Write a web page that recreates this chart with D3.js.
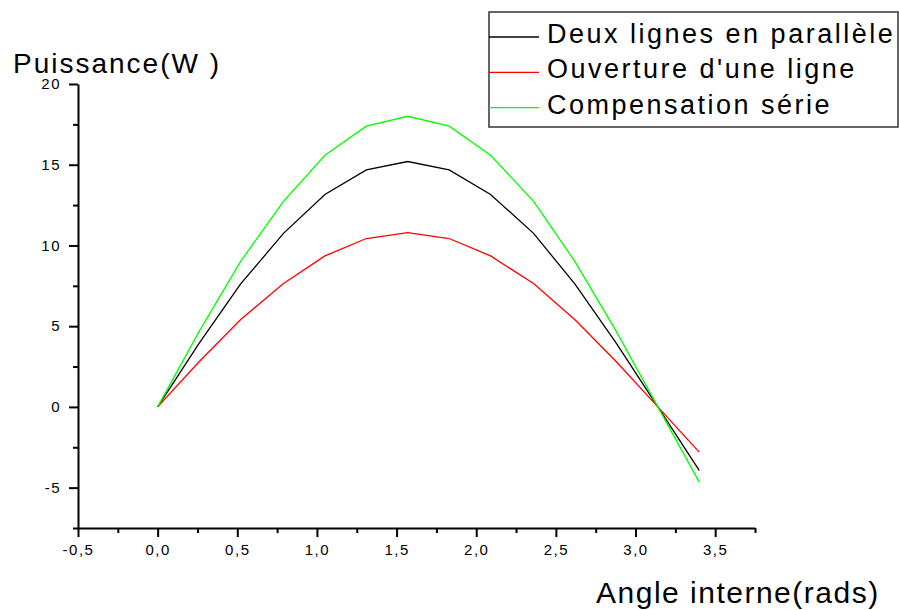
<!DOCTYPE html>
<html>
<head>
<meta charset="utf-8">
<script src="https://cdn.jsdelivr.net/npm/d3@7"></script>
<style>
  body { margin: 0; background: #fff; }
  svg { display: block; font-family: "Liberation Sans", Arial, sans-serif; }
</style>
</head>
<body>
<svg id="chart" width="899" height="610"></svg>
<script>
(function () {
  "use strict";

  // angle interne (rads), pas de pi/12
  const angles = [0, 0.26, 0.52, 0.79, 1.05, 1.31, 1.57, 1.83, 2.09, 2.36, 2.62, 2.88, 3.14, 3.40];
  const deuxLignes = [0, 3.93, 7.6, 10.75, 13.16, 14.68, 15.2, 14.68, 13.16, 10.75, 7.6, 3.93, 0, -3.93];
  const ouverture = [0, 2.8, 5.4, 7.64, 9.35, 10.43, 10.8, 10.43, 9.35, 7.64, 5.4, 2.8, 0, -2.8];
  const compensation = [0, 4.66, 9.0, 12.73, 15.59, 17.39, 18.0, 17.39, 15.59, 12.73, 9.0, 4.66, 0, -4.66];

  const seriesNames = ["Deux lignes en parallèle", "Ouverture d'une ligne", "Compensation série"];
  const seriesColors = ["#000000", "#ff0000", "#00ff00"];
  const xMajorTicks = [-0.5, 0, 0.5, 1, 1.5, 2, 2.5, 3, 3.5];
  const xMinorTicks = [-0.25, 0.25, 0.75, 1.25, 1.75, 2.25, 2.75, 3.25, 3.75];
  const yMajorTicks = [-5, 0, 5, 10, 15, 20];
  const yMinorTicks = [-7.5, -2.5, 2.5, 7.5, 12.5, 17.5];

  const svg = d3.select("#chart");
  const x = d3.scaleLinear().domain([-0.5, 3.75]).range([78, 755]);
  const y = d3.scaleLinear().domain([-7.5, 20]).range([528, 84]);

  const fmtX = (v) => d3.format(".1f")(v).replace(".", ",").replace("−", "-");
  const fmtY = (v) => String(v);

  // axes mineurs
  svg.append("g")
    .attr("transform", `translate(0,${y(-7.5)})`)
    .call(d3.axisBottom(x).tickValues(xMinorTicks).tickSize(5).tickSizeOuter(0).tickFormat(""))
    .call((g) => g.select(".domain").remove());
  svg.append("g")
    .attr("transform", `translate(${x(-0.5)},0)`)
    .call(d3.axisLeft(y).tickValues(yMinorTicks).tickSize(5).tickSizeOuter(0).tickFormat(""))
    .call((g) => g.select(".domain").remove());

  const xAxis = svg.append("g")
    .attr("transform", `translate(0,${y(-7.5)})`)
    .call(d3.axisBottom(x).tickValues(xMajorTicks).tickSize(9).tickSizeOuter(0).tickPadding(7).tickFormat(fmtX));
  const yAxis = svg.append("g")
    .attr("transform", `translate(${x(-0.5)},0)`)
    .call(d3.axisLeft(y).tickValues(yMajorTicks).tickSize(9).tickSizeOuter(0).tickPadding(8).tickFormat(fmtY));

  svg.selectAll(".tick line").attr("stroke", "#000").attr("stroke-width", 2);
  svg.selectAll(".domain").attr("stroke", "#000").attr("stroke-width", 2);
  [xAxis, yAxis].forEach((g) => {
    g.selectAll(".tick text")
      .attr("fill", "#000")
      .style("font-size", "15px")
      .style("letter-spacing", "1.5px")
      .style("font-family", "\"Liberation Sans\", Arial, sans-serif");
  });

  // courbes
  const allSeries = [deuxLignes, ouverture, compensation];
  const line = d3.line().x((d) => x(d[0])).y((d) => y(d[1]));
  allSeries.forEach((vals, i) => {
    svg.append("path")
      .datum(angles.map((a, k) => [a, vals[k]]))
      .attr("fill", "none")
      .attr("stroke", seriesColors[i])
      .attr("stroke-width", 1.3)
      .attr("d", line);
  });

  // titres
  svg.append("text")
    .attr("x", 13).attr("y", 73)
    .style("font-size", "28px").style("letter-spacing", "2px")
    .text("Puissance(W )");
  svg.append("text")
    .attr("x", 596).attr("y", 603)
    .style("font-size", "30px").style("letter-spacing", "1.5px")
    .text("Angle interne(rads)");

  // légende
  const legend = svg.append("g");
  legend.append("rect")
    .attr("x", 489).attr("y", 12).attr("width", 409).attr("height", 115)
    .attr("fill", "#fff").attr("stroke", "#333").attr("stroke-width", 1.5);
  seriesNames.forEach((name, i) => {
    const ly = 37 + i * 35.3;
    legend.append("line")
      .attr("x1", 489).attr("x2", 539).attr("y1", ly).attr("y2", ly)
      .attr("stroke", seriesColors[i]).attr("stroke-width", 1.3);
    legend.append("text")
      .attr("x", 547).attr("y", ly + 6)
      .style("font-size", "27px").style("letter-spacing", "2.5px")
      .text(name);
  });
})();
</script>
</body>
</html>
